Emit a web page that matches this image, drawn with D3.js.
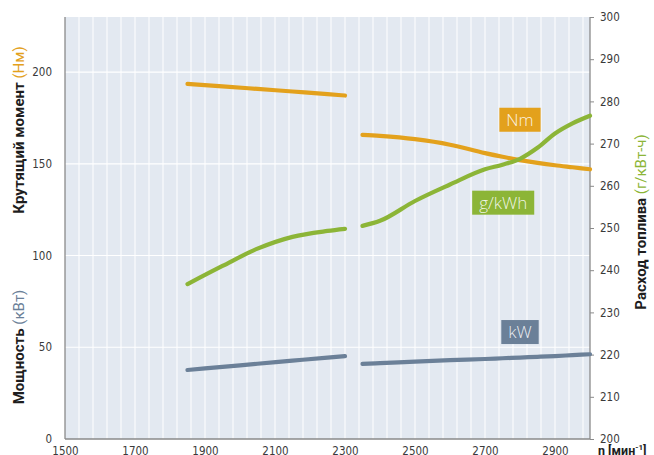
<!DOCTYPE html>
<html>
<head>
<meta charset="utf-8">
<script src="https://cdn.jsdelivr.net/npm/d3@7"></script>
<style>
    body { margin: 0; background: #fff; }
    .tick text { font-family: "Liberation Sans Narrow", "DejaVu Sans Condensed", "Roboto", sans-serif; font-size: 11.5px; fill: #3a3a3a; }
    .axis-title { font-family: "Roboto", "DejaVu Sans", sans-serif; font-weight: bold; font-size: 15px; fill: #1e1e1e; }
    .box-label { font-family: "Open Sans", "Roboto", sans-serif; font-size: 17px; font-weight: 300; fill: #fff; fill-opacity: .88; }
</style>
</head>
<body>
<div id="chart"></div>
<script>
// rpm breakpoints of the two curve segments
const rpm1 = [1850, 1950, 2050, 2150, 2250, 2300];
const rpm2 = [2350, 2400, 2500, 2600, 2700, 2750, 2800, 2850, 2900, 2950, 3000];

// torque, Nm (left axis)
const torque1 = [193.5, 192.2, 190.8, 189.4, 188.0, 187.2];
const torque2 = [165.8, 165.2, 163.4, 160.4, 155.8, 153.8, 152.0, 150.5, 149.2, 148.1, 147.0];

// power, kW (left axis)
const power1 = [37.6, 39.3, 41.0, 42.7, 44.4, 45.2];
const power2 = [40.9, 41.3, 42.2, 43.0, 43.6, 44.0, 44.4, 44.8, 45.2, 45.7, 46.2];

// specific fuel consumption, g/kWh (right axis)
const fuel1 = [236.7, 241.0, 245.1, 247.9, 249.3, 249.8];
const fuel2 = [250.5, 251.7, 256.4, 260.3, 263.9, 265.0, 266.4, 269.0, 272.4, 274.8, 276.6];

const xTicks = [1500, 1700, 1900, 2100, 2300, 2500, 2700, 2900];
const leftTicks = [0, 50, 100, 150, 200];
const rightTicks = [200, 210, 220, 230, 240, 250, 260, 270, 280, 290, 300];

const series = [
    {name: 'Nm', color: '#e3a11c', axis: 'left', segs: [[rpm1, torque1], [rpm2, torque2]], label: [2800, 174]},
    {name: 'g/kWh', color: '#8cb537', axis: 'right', segs: [[rpm1, fuel1], [rpm2, fuel2]], label: [2752, 128.8]},
    {name: 'kW', color: '#6b8098', axis: 'left', segs: [[rpm1, power1], [rpm2, power2]], label: [2800, 58.3]},
];

const width = 654, height = 455,
      margin = {top: 17, right: 64, bottom: 16, left: 65},
      plotW = width - margin.left - margin.right,
      plotH = height - margin.top - margin.bottom;

const svg = d3.select('#chart').append('svg')
              .attr('width', width).attr('height', height);
const plot = svg.append('g')
                .attr('transform', `translate(${margin.left},${margin.top})`);

const x = d3.scaleLinear().domain([1500, 3000]).range([0, plotW]);
const yL = d3.scaleLinear().domain([0, 230]).range([plotH, 0]);
const yR = d3.scaleLinear().domain([200, 300]).range([plotH, 0]);

// background + grid
plot.append('rect').attr('width', plotW).attr('height', plotH).attr('fill', '#e3e9f1');
plot.append('g').selectAll('line')
    .data(d3.range(1540, 3000, 40)).enter().append('line')
    .attr('x1', d => x(d)).attr('x2', d => x(d))
    .attr('y1', 0).attr('y2', plotH)
    .attr('stroke', '#fff').attr('stroke-width', 1);
plot.append('g').selectAll('line')
    .data(leftTicks.slice(1)).enter().append('line')
    .attr('x1', 0).attr('x2', plotW)
    .attr('y1', d => yL(d)).attr('y2', d => yL(d))
    .attr('stroke', '#fff').attr('stroke-width', 1.2);

// axes
const xAxis = plot.append('g').attr('transform', `translate(0,${plotH})`)
    .call(d3.axisBottom(x).tickValues(xTicks).tickSize(0).tickPadding(8).tickFormat(d3.format('d')));
const lAxis = plot.append('g')
    .call(d3.axisLeft(yL).tickValues(leftTicks).tickSize(0).tickPadding(13));
const rAxis = plot.append('g').attr('transform', `translate(${plotW},0)`)
    .call(d3.axisRight(yR).tickValues(rightTicks).tickSize(4).tickPadding(6));
rAxis.selectAll('text').attr('dy', '0.32em');
svg.selectAll('path.domain').attr('stroke', '#8a8a8a').attr('stroke-width', 1.3);
rAxis.selectAll('.tick line').attr('stroke', '#8a8a8a');
xAxis.select('path.domain').attr('d', `M0,0H${plotW}`);
lAxis.select('path.domain').attr('d', `M0,0V${plotH}`);
rAxis.select('path.domain').attr('d', `M0,0V${plotH}`);

xAxis.append('text')
     .attr('x', plotW + 8).attr('y', 16)
     .attr('text-anchor', 'start')
     .attr('class', 'axis-title').style('font-size', '12.5px')
     .call(t => {
         t.append('tspan').text('n [мин');
         t.append('tspan').text('-1').attr('dy', -5).style('font-size', '8px');
         t.append('tspan').text(']').attr('dy', 5);
     });

// lines
const line = (yScale) => d3.line()
    .x(d => x(d[0])).y(d => yScale(d[1]))
    .curve(d3.curveMonotoneX);

series.forEach(s => {
    const yScale = s.axis === 'left' ? yL : yR;
    s.segs.forEach(([xs, ys]) => {
        plot.append('path')
            .datum(xs.map((v, i) => [v, ys[i]]))
            .attr('d', line(yScale))
            .attr('fill', 'none')
            .attr('stroke', s.color)
            .attr('stroke-width', 4.2)
            .attr('stroke-linecap', 'round');
    });
});

// boxed labels
series.forEach(s => {
    const g = plot.append('g')
                  .attr('transform', `translate(${x(s.label[0])},${yL(s.label[1])})`);
    const t = g.append('text').attr('class', 'box-label')
               .attr('text-anchor', 'middle').attr('dy', '0.36em')
               .text(s.name);
    const w = t.node().getComputedTextLength() + 14;
    g.insert('rect', 'text')
     .attr('x', -w / 2).attr('y', -12).attr('width', w).attr('height', 24)
     .attr('fill', s.color);
});

// axis titles
function vTitle(cx, cy, parts) {
    const t = svg.append('text').attr('class', 'axis-title')
                 .attr('text-anchor', 'middle')
                 .attr('transform', `translate(${cx},${cy}) rotate(-90)`);
    parts.forEach(p => t.append('tspan').text(p[0]).attr('fill', p[1] || null)
                         .style('font-weight', p[1] ? 'normal' : null));
}
vTitle(24, 130, [['Крутящий момент '], ['(Нм)', '#e3a11c']]);
vTitle(24, 347, [['Мощность '], ['(кВт)', '#6b8098']]);
vTitle(646, 222, [['Расход топлива '], ['(г/кВт-ч)', '#8cb537']]);
</script>
</body>
</html>
